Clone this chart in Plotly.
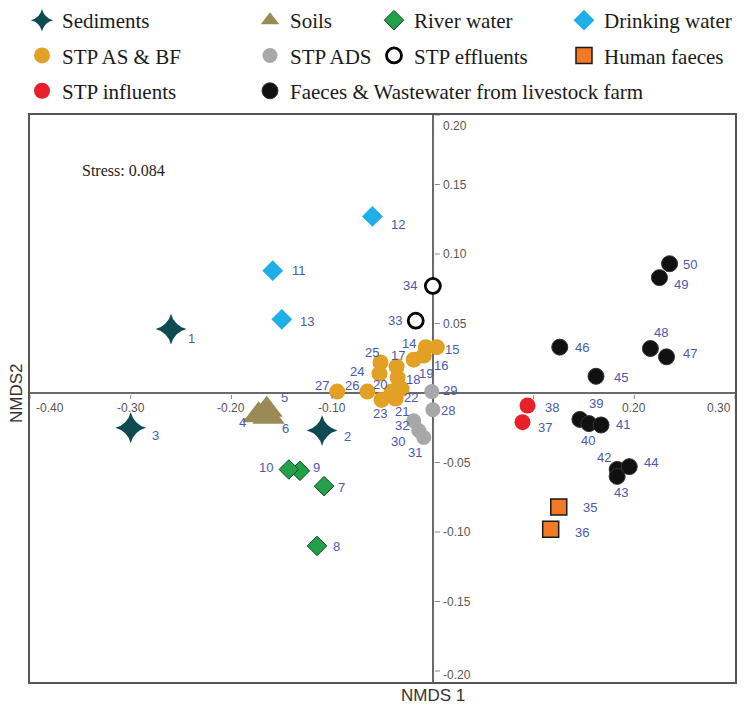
import plotly.graph_objects as go

# ---------------- data ----------------
groups = ["Sediments", "Soils", "River water", "Drinking water",
          "STP AS & BF", "STP ADS", "STP effluents", "Human faeces",
          "STP influents", "Faeces & Wastewater from livestock farm"]

sample_ids = list(range(1, 51))
sample_group = (["Sediments"] * 3 + ["Soils"] * 3 + ["River water"] * 4 +
                ["Drinking water"] * 3 + ["STP AS & BF"] * 14 + ["STP ADS"] * 5 +
                ["STP effluents"] * 2 + ["Human faeces"] * 2 + ["STP influents"] * 2 +
                ["Faeces & Wastewater from livestock farm"] * 12)

nmds1 = [-0.260, -0.110, -0.300,            # 1-3
         -0.173, -0.165, -0.163,            # 4-6
         -0.108, -0.115, -0.132, -0.143,    # 7-10
         -0.159, -0.060, -0.150,            # 11-13
         -0.007, 0.004, -0.009, -0.036, -0.035, -0.019, -0.041,   # 14-20
         -0.037, -0.031, -0.051, -0.053, -0.052, -0.065, -0.095,  # 21-27
         0.000, -0.001, -0.014, -0.009, -0.019,                   # 28-32
         -0.017, 0.000,                     # 33-34
         0.125, 0.117,                      # 35-36
         0.089, 0.094,                      # 37-38
         0.146, 0.155, 0.167, 0.183, 0.183, 0.195,   # 39-44
         0.162, 0.126, 0.232, 0.216, 0.225, 0.235]   # 45-50

nmds2 = [0.046, -0.027, -0.025,
         -0.016, -0.012, -0.017,
         -0.067, -0.110, -0.056, -0.055,
         0.088, 0.127, 0.053,
         0.033, 0.033, 0.027, 0.019, 0.011, 0.024, 0.001,
         -0.004, 0.003, -0.005, 0.014, 0.022, 0.001, 0.001,
         -0.012, 0.001, -0.027, -0.032, -0.020,
         0.052, 0.077,
         -0.082, -0.098,
         -0.021, -0.009,
         -0.019, -0.022, -0.023, -0.055, -0.060, -0.053,
         0.012, 0.033, 0.026, 0.032, 0.083, 0.093]

x_ticks = [-0.40, -0.30, -0.20, -0.10, 0.10, 0.20, 0.30]
x_tick_labels = ["-0.40", "-0.30", "-0.20", "-0.10", "", "0.20", "0.30"]  # 0.10 hidden under sample 38
y_ticks = [0.20, 0.15, 0.10, 0.05, -0.05, -0.10, -0.15, -0.20]
y_tick_labels = ["0.20", "0.15", "0.10", "0.05", "-0.05", "-0.10", "-0.15", "-0.20"]

stress_text = "Stress: 0.084"

# ---------------- styles ----------------
styles = {
    "Sediments": dict(symbol="star-diamond", size=22, color="#0d4a52", line=dict(width=0)),
    "Soils": dict(symbol="triangle-up", size=28, color="#9a8a55", line=dict(width=0)),
    "River water": dict(symbol="diamond", size=15, color="#22a04a", line=dict(width=1, color="#0b4a1c")),
    "Drinking water": dict(symbol="diamond", size=16, color="#1eaee8", line=dict(width=0)),
    "STP AS & BF": dict(symbol="circle", size=16, color="#e2a024", line=dict(width=0)),
    "STP ADS": dict(symbol="circle", size=15, color="#a8a8a8", line=dict(width=0)),
    "STP effluents": dict(symbol="circle", size=15, color="#ffffff", line=dict(width=2.8, color="#000000")),
    "Human faeces": dict(symbol="square", size=16, color="#f27a22", line=dict(width=1.5, color="#1a1a1a")),
    "STP influents": dict(symbol="circle", size=16, color="#e8202a", line=dict(width=0)),
    "Faeces & Wastewater from livestock farm": dict(symbol="circle", size=16, color="#111111", line=dict(width=1, color="#333333")),
}
legend_of = {
    "Sediments": "legend", "STP AS & BF": "legend", "STP influents": "legend",
    "Soils": "legend2", "STP ADS": "legend2", "Faeces & Wastewater from livestock farm": "legend2",
    "River water": "legend3", "STP effluents": "legend3",
    "Drinking water": "legend4", "Human faeces": "legend4",
}

# label offsets in pixels (dx right, dy down)
label_offsets = [(20, 9), (25, 6), (25, 8),
                 (-16, 7), (18, -12), (17, 12),
                 (17, 1), (19, 1), (17, -3), (-23, -2),
                 (26, 0), (26, 8), (25, 2),
                 (-17, -4), (15, 2), (17, 10), (1, -11), (15, 2), (12, 14), (-12, -7),
                 (6, 13), (9, 9), (-1, 14), (-22, -2), (-8, -10), (-15, -6), (-15, -6),
                 (15, 1), (18, -1), (-21, 11), (-9, 15), (-12, 5),
                 (-21, 0), (-23, 0),
                 (31, 1), (31, 3),
                 (23, 5), (24, 2),
                 (16, -16), (-1, 17), (22, 0), (-13, -12), (4, 16), (22, -4),
                 (25, 1), (22, 0), (23, -3), (11, -16), (22, 7), (20, 1)]

fig = go.Figure()

for g in groups:
    idx = [i for i, s in enumerate(sample_group) if s == g]
    st = styles[g]
    fig.add_trace(go.Scatter(
        x=[nmds1[i] for i in idx], y=[nmds2[i] for i in idx],
        mode="markers", name=g, legend=legend_of[g], legendgroup=g,
        marker=dict(symbol=st["symbol"], size=st["size"], color=st["color"], line=st["line"]),
        hoverinfo="skip",
    ))

annotations = []
for i, sid in enumerate(sample_ids):
    dx, dy = label_offsets[i]
    annotations.append(dict(x=nmds1[i], y=nmds2[i], xref="x", yref="y", text=str(sid),
                            showarrow=False, xshift=dx, yshift=-dy,
                            font=dict(family="Liberation Sans, Arial", size=13, color="#4a58b2")))

# tick labels on the crossing axes
for j, (t, lab) in enumerate(zip(x_ticks, x_tick_labels)):
    if not lab:
        continue
    anchor = "left" if j == 0 else ("right" if j == len(x_ticks) - 1 else "center")
    xs = 4 if j == 0 else (-2 if j == len(x_ticks) - 1 else 0)
    annotations.append(dict(x=t, y=0, xref="x", yref="y", text=lab, showarrow=False,
                            xanchor=anchor, yanchor="middle", yshift=-15, xshift=xs,
                            font=dict(family="Liberation Sans, Arial", size=12, color="#555555")))
for j, (t, lab) in enumerate(zip(y_ticks, y_tick_labels)):
    ys = -11 if j == 0 else (-4 if j == len(y_ticks) - 1 else 0)
    annotations.append(dict(x=0, y=t, xref="x", yref="y", text=lab, showarrow=False,
                            xanchor="left", yanchor="middle", xshift=8, yshift=ys,
                            font=dict(family="Liberation Sans, Arial", size=12, color="#555555")))

annotations.append(dict(x=-0.350, y=0.160, xref="x", yref="y", text=stress_text, showarrow=False,
                        xanchor="left", yanchor="middle",
                        font=dict(family="Liberation Serif, Times New Roman", size=16, color="#222222")))
annotations.append(dict(x=0, y=0, xref="x", yref="paper", text="NMDS 1", showarrow=False,
                        xanchor="center", yanchor="middle", yshift=-13,
                        font=dict(family="Liberation Sans, Arial", size=17, color="#333333")))
annotations.append(dict(x=0, y=0, xref="paper", yref="y", text="NMDS2", showarrow=False,
                        textangle=-90, xanchor="center", yanchor="middle", xshift=-14,
                        font=dict(family="Liberation Sans, Arial", size=17, color="#333333")))

shapes = []
for t in x_ticks:
    shapes.append(dict(type="line", xref="x", yref="y", x0=t, x1=t, ysizemode="pixel",
                       yanchor=0, y0=-2, y1=-6, line=dict(color="#888888", width=1)))
for t in y_ticks:
    shapes.append(dict(type="line", xref="x", yref="y", y0=t, y1=t, xsizemode="pixel",
                       xanchor=0, x0=2, x1=7, line=dict(color="#888888", width=1)))

axis_common = dict(showgrid=False, showticklabels=False, ticks="", showline=True, mirror=True,
                   linecolor="#555555", linewidth=1.5, zeroline=True, zerolinecolor="#6a6a6a",
                   zerolinewidth=2)

W, H = 746, 706
PAGE = 8  # page offset of the figure inside the browser window
plot_l, plot_r, plot_t, plot_b = 30 - PAGE, 735 - PAGE, 115 - PAGE, 682 - PAGE
pw, ph = plot_r - plot_l, plot_b - plot_t


def lx(cx):
    return (cx - plot_l) / pw


def ly(cy):
    return (plot_b - cy) / ph


legend_font = dict(family="Liberation Serif, Times New Roman", size=21, color="#1a1a1a")
leg_common = dict(font=legend_font, bgcolor="rgba(0,0,0,0)", borderwidth=0, orientation="v",
                  xanchor="left", yanchor="top", tracegroupgap=5, itemwidth=30)
leg_top = ly(-8)

fig.update_layout(
    width=W, height=H,
    margin=dict(l=plot_l, r=W - plot_r, t=plot_t, b=H - plot_b, autoexpand=False),
    paper_bgcolor="white", plot_bgcolor="white",
    xaxis=dict(range=[-0.40, 0.30], **axis_common),
    yaxis=dict(range=[-(682 - 393) / 1390, 0.20], **axis_common),
    showlegend=True,
    legend=dict(x=lx(14), y=leg_top, **leg_common),
    legend2=dict(x=lx(242), y=leg_top, **leg_common),
    legend3=dict(x=lx(366), y=leg_top, **leg_common),
    legend4=dict(x=lx(556), y=leg_top, **leg_common),
    annotations=annotations,
    shapes=shapes,
)

fig.write_html("out.html")
